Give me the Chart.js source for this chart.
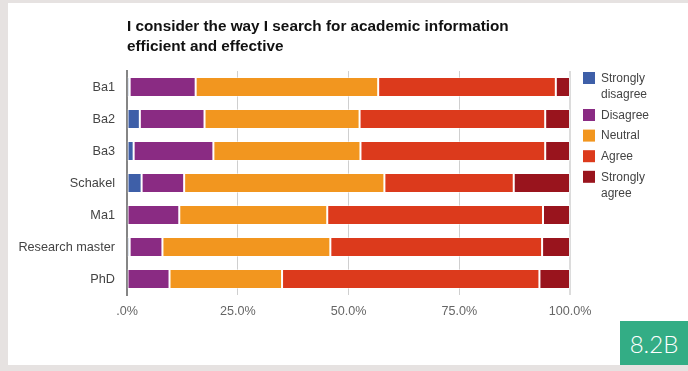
<!DOCTYPE html>
<html>
<head>
<meta charset="utf-8">
<script src="https://cdn.jsdelivr.net/npm/chart.js@4.4.1/dist/chart.umd.min.js"></script>
<style>
  html, body { margin: 0; padding: 0; }
  body { width: 688px; height: 371px; background: #e6e2e1; position: relative; overflow: hidden; }
  #card { position: absolute; left: 8px; top: 3px; width: 680px; height: 362px; background: #fff; }
  #chart { position: absolute; left: 0; top: 0; }
  #badge {
    position: absolute; left: 620px; top: 321px; width: 68px; height: 44px;
    background: #33ad85; color: #fff; font: 300 24px Lato, "Open Sans", sans-serif;
    display: flex; align-items: center; justify-content: center;
  }
</style>
</head>
<body>
<div id="card"></div>
<canvas id="chart" width="688" height="371"></canvas>
<div id="badge">8.2B</div>
<script>
const titleLines = ['I consider the way I search for academic information', 'efficient and effective'];
const categories = ['Ba1', 'Ba2', 'Ba3', 'Schakel', 'Ma1', 'Research master', 'PhD'];
const seriesNames = ['Strongly disagree', 'Disagree', 'Neutral', 'Agree', 'Strongly agree'];
const seriesColors = ['#3e5fa8', '#8a2b83', '#f2961f', '#dc3a1c', '#99141d'];

// percentages per group, each row sums to 100
const stronglyDisagree = [0.6, 2.9, 1.5, 3.3, 0, 0.6, 0];
const disagree = [14.9, 14.6, 18.0, 9.6, 11.8, 7.4, 9.6];
const neutral = [41.2, 35.0, 33.2, 45.2, 33.4, 37.9, 25.4];
const agree = [40.1, 41.9, 41.7, 29.2, 48.7, 47.8, 58.1];
const stronglyAgree = [3.2, 5.6, 5.6, 12.7, 6.1, 6.3, 6.9];

const tickLabels = ['.0%', '25.0%', '50.0%', '75.0%', '100.0%'];

const seriesValues = [stronglyDisagree, disagree, neutral, agree, stronglyAgree];

Chart.defaults.font.family = 'Arial, "Liberation Sans", sans-serif';
Chart.defaults.font.size = 12;

// title and wrapped legend are painted by hand so they can sit beside the plot
const sidePieces = {
    id: 'sidePieces',
    afterDraw(chart) {
        const ctx = chart.ctx;
        const area = chart.chartArea;
        ctx.save();
        ctx.fillStyle = '#111';
        ctx.font = 'bold 15.3px Arial, "Liberation Sans", sans-serif';
        ctx.textBaseline = 'middle';
        ctx.textAlign = 'left';
        titleLines.forEach((line, i) => ctx.fillText(line, area.left, 27 + i * 20));

        ctx.font = '12px Arial, "Liberation Sans", sans-serif';
        let y = 72;
        seriesNames.forEach((name, i) => {
            ctx.fillStyle = seriesColors[i];
            ctx.fillRect(583, y, 12, 12);
            ctx.fillStyle = '#444';
            const words = name.split(' ');
            const lines = [];
            let cur = '';
            words.forEach(w => {
                const test = cur ? cur + ' ' + w : w;
                if (cur && ctx.measureText(test).width > 60) {
                    lines.push(cur);
                    cur = w;
                } else {
                    cur = test;
                }
            });
            lines.push(cur);
            lines.forEach((l, j) => ctx.fillText(l, 601, y + 6.5 + j * 16));
            y += lines.length === 1 ? 20.6 : 37;
        });
        ctx.restore();
    }
};

new Chart(document.getElementById('chart').getContext('2d'), {
    type: 'bar',
    data: {
        labels: categories,
        datasets: seriesNames.map((name, i) => ({
            label: name,
            data: seriesValues[i],
            backgroundColor: seriesColors[i],
            borderColor: 'rgba(255,255,255,0.4)',
            borderWidth: 1,
            borderSkipped: false,
            barPercentage: 0.625,
            categoryPercentage: 1
        }))
    },
    options: {
        indexAxis: 'y',
        responsive: false,
        animation: false,
        layout: { padding: { top: 71, right: 118, left: 0, bottom: 0 } },
        plugins: {
            legend: { display: false },
            title: { display: false },
            tooltip: { enabled: false }
        },
        scales: {
            x: {
                stacked: true,
                min: 0,
                max: 100,
                afterFit(scale) { scale.height = 76; },
                afterBuildTicks(scale) {
                    scale.ticks = [0, 25, 50, 75, 100].map(v => ({ value: v }));
                },
                ticks: {
                    color: '#666',
                    padding: 9,
                    maxRotation: 0,
                    font: { size: 12.6 },
                    callback: (v, i) => tickLabels[i]
                },
                grid: {
                    drawTicks: false,
                    color: ctx => ctx.tick && ctx.tick.value === 0 ? 'rgba(0,0,0,0)' : (ctx.tick && ctx.tick.value === 100 ? '#dcdcdc' : '#cfcfcf'),
                    lineWidth: ctx => ctx.tick && ctx.tick.value === 100 ? 2 : 1
                },
                border: { display: false }
            },
            y: {
                stacked: true,
                afterFit(scale) { scale.width = 127; },
                ticks: { color: '#444', padding: 12, font: { size: 12.7 } },
                grid: { display: false, drawTicks: false },
                border: { display: true, color: '#858585', width: 2 }
            }
        }
    },
    plugins: [sidePieces]
});
</script>
</body>
</html>
